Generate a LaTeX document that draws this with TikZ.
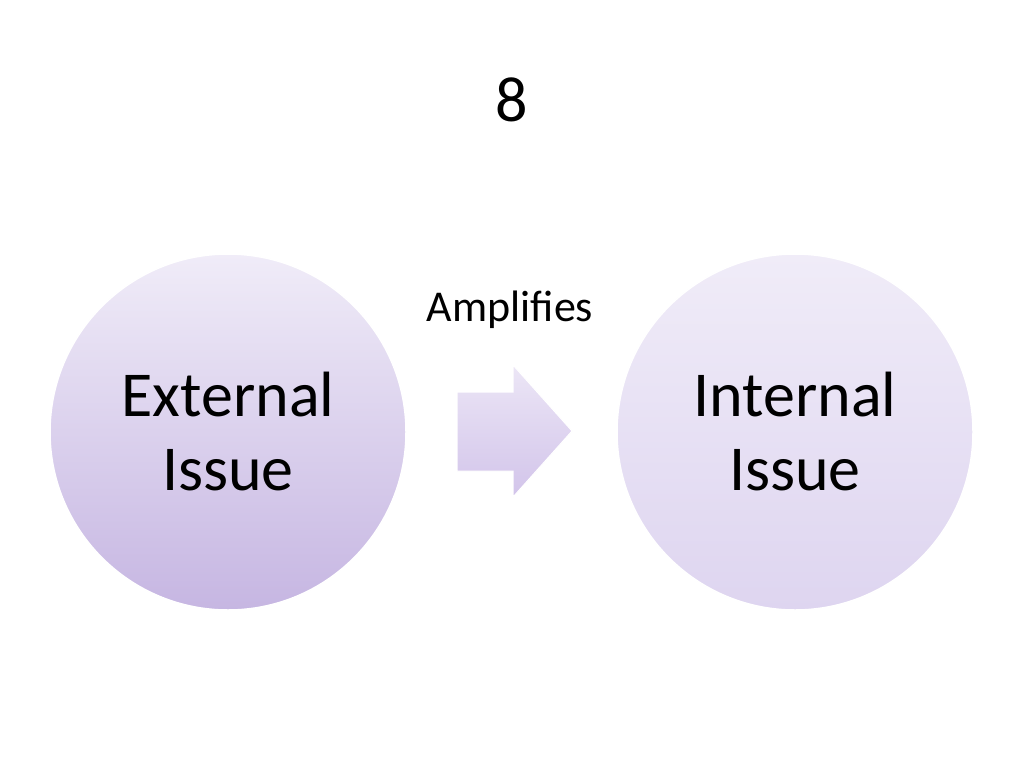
\documentclass[tikz,border=0pt]{standalone}
\usepackage{fontspec}
\setmainfont{Carlito}
\begin{document}
\begin{tikzpicture}[x=1pt,y=-1pt,
  circ/.style={circle,minimum size=356pt,inner sep=0pt,draw=white,line width=1.5pt,align=center,font=\fontsize{64}{74}\selectfont},
  lbl/.style={inner sep=0pt}]
\useasboundingbox (0,0) rectangle (1024,768);
\fill[white] (0,0) rectangle (1024,768);
\node[circ,top color=white!100!white,bottom color=white,shading=axis] at (0,0) {};
\node[circ,top color={rgb,255:red,240;green,236;blue,248},bottom color={rgb,255:red,198;green,182;blue,226}] (ext) at (228,432) {External\\Issue};
\node[circ,top color={rgb,255:red,240;green,236;blue,248},bottom color={rgb,255:red,222;green,213;blue,240}] (int) at (795,432) {Internal\\Issue};
\node[lbl,font=\fontsize{64}{70}\selectfont] (title) at (512,100) {8};
\node[lbl,font=\fontsize{44}{50}\selectfont] (amp) at (510,310) {Amplifies};
\shade[top color={rgb,255:red,236;green,230;blue,246},bottom color={rgb,255:red,210;green,196;blue,234},draw=white,line width=1pt]
  (457,392) -- (513,392) -- (513,365) -- (572,431) -- (513,497) -- (513,471) -- (457,471) -- cycle;
\end{tikzpicture}
\end{document}
